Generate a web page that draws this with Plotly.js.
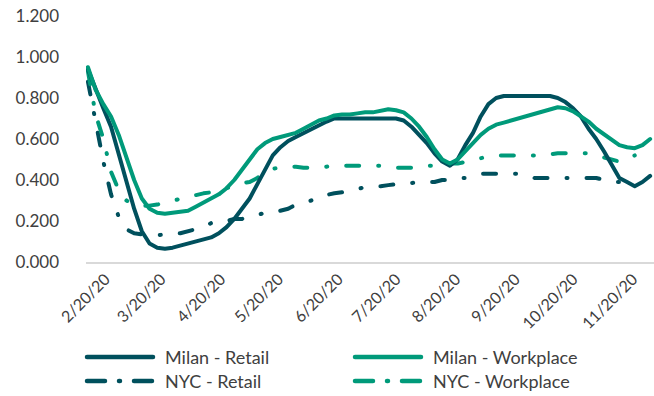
<!DOCTYPE html>
<html>
<head>
<meta charset="utf-8">
<script src="https://cdn.plot.ly/plotly-3.0.1.min.js"></script>
<style>
  html, body { margin: 0; padding: 0; background: #ffffff; }
  #chart { width: 654px; height: 396px; }
  .scatterlayer .js-line, .shapelayer path { stroke-linecap: round; stroke-linejoin: round; }
</style>
</head>
<body>
<div id="chart"></div>
<script>
// Mobility index (1.000 = baseline), sampled every four days
const dates = ['2020-02-13','2020-02-17','2020-02-21','2020-02-25','2020-02-29',
  '2020-03-04','2020-03-08','2020-03-12','2020-03-16','2020-03-20','2020-03-24','2020-03-28',
  '2020-04-01','2020-04-05','2020-04-09','2020-04-13','2020-04-17','2020-04-21','2020-04-25','2020-04-29',
  '2020-05-03','2020-05-07','2020-05-11','2020-05-15','2020-05-19','2020-05-23','2020-05-27','2020-05-31',
  '2020-06-04','2020-06-08','2020-06-12','2020-06-16','2020-06-20','2020-06-24','2020-06-28',
  '2020-07-02','2020-07-06','2020-07-10','2020-07-14','2020-07-18','2020-07-22','2020-07-26','2020-07-30',
  '2020-08-03','2020-08-07','2020-08-11','2020-08-15','2020-08-19','2020-08-23','2020-08-27','2020-08-31',
  '2020-09-04','2020-09-08','2020-09-12','2020-09-16','2020-09-20','2020-09-24','2020-09-28',
  '2020-10-02','2020-10-06','2020-10-10','2020-10-14','2020-10-18','2020-10-22','2020-10-26','2020-10-30',
  '2020-11-03','2020-11-07','2020-11-11','2020-11-15','2020-11-19','2020-11-23','2020-11-27','2020-12-01'];

const milanRetail = [0.94, 0.84, 0.75, 0.66, 0.53,
  0.39, 0.26, 0.15, 0.09, 0.07, 0.065, 0.07,
  0.08, 0.09, 0.10, 0.11, 0.12, 0.14, 0.17, 0.21,
  0.26, 0.31, 0.38, 0.45, 0.52, 0.56, 0.59, 0.61,
  0.63, 0.65, 0.67, 0.685, 0.70, 0.70, 0.70,
  0.70, 0.70, 0.70, 0.70, 0.70, 0.70, 0.69, 0.66,
  0.62, 0.58, 0.53, 0.49, 0.47, 0.50, 0.57, 0.63,
  0.71, 0.77, 0.80, 0.81, 0.81, 0.81, 0.81,
  0.81, 0.81, 0.81, 0.80, 0.78, 0.75, 0.71, 0.65,
  0.60, 0.54, 0.47, 0.41, 0.39, 0.37, 0.39, 0.42];

const milanWorkplace = [0.95, 0.84, 0.77, 0.71, 0.62,
  0.51, 0.40, 0.31, 0.26, 0.24, 0.235, 0.24,
  0.245, 0.25, 0.27, 0.29, 0.31, 0.33, 0.36, 0.40,
  0.45, 0.50, 0.55, 0.58, 0.60, 0.61, 0.62, 0.63,
  0.65, 0.67, 0.69, 0.70, 0.715, 0.72, 0.72,
  0.725, 0.73, 0.73, 0.74, 0.745, 0.74, 0.73, 0.70,
  0.66, 0.61, 0.55, 0.50, 0.48, 0.50, 0.54, 0.58,
  0.62, 0.65, 0.67, 0.68, 0.69, 0.70, 0.715,
  0.725, 0.735, 0.745, 0.755, 0.75, 0.735, 0.71, 0.685,
  0.65, 0.625, 0.60, 0.57, 0.56, 0.555, 0.57, 0.60];

const nycRetail = [0.88, 0.68, 0.49, 0.33, 0.22,
  0.16, 0.14, 0.135, 0.13, 0.13, 0.135, 0.14,
  0.14, 0.15, 0.16, 0.17, 0.19, 0.20, 0.20, 0.21,
  0.21, 0.22, 0.23, 0.24, 0.24, 0.25, 0.26, 0.28,
  0.29, 0.30, 0.32, 0.33, 0.335, 0.34, 0.35,
  0.36, 0.365, 0.37, 0.37, 0.375, 0.38, 0.38, 0.385,
  0.39, 0.39, 0.39, 0.40, 0.40, 0.41, 0.41, 0.42,
  0.43, 0.43, 0.43, 0.43, 0.43, 0.43, 0.42,
  0.41, 0.41, 0.41, 0.41, 0.41, 0.41, 0.41, 0.41,
  0.41, 0.40, 0.39, 0.39, null, null, null, null];

const nycWorkplace = [0.93, 0.72, 0.60, 0.44, 0.35,
  0.30, 0.28, 0.275, 0.275, 0.28, 0.29, 0.30,
  0.31, 0.32, 0.33, 0.335, 0.34, 0.345, 0.36, 0.375,
  0.385, 0.39, 0.41, 0.44, 0.455, 0.46, 0.465, 0.465,
  0.46, 0.46, 0.46, 0.465, 0.47, 0.47, 0.47,
  0.47, 0.47, 0.47, 0.47, 0.465, 0.46, 0.46, 0.46,
  0.465, 0.47, 0.47, 0.475, 0.48, 0.48, 0.49, 0.50,
  0.51, 0.515, 0.52, 0.52, 0.52, 0.52, 0.52,
  0.52, 0.52, 0.525, 0.53, 0.53, 0.53, 0.53, 0.53,
  0.52, 0.51, 0.50, 0.49, 0.50, 0.52, null, null];

const tickDates = ['2020-02-20','2020-03-20','2020-04-20','2020-05-20','2020-06-20',
  '2020-07-20','2020-08-20','2020-09-20','2020-10-20','2020-11-20'];
const tickLabels = ['2/20/20','3/20/20','4/20/20','5/20/20','6/20/20',
  '7/20/20','8/20/20','9/20/20','10/20/20','11/20/20'];

const seriesNames = ['Milan - Retail', 'Milan - Workplace', 'NYC - Retail', 'NYC - Workplace'];

const DARK = '#00505D';
const GREEN = '#009A7A';
const DASHDOT = '13px,19px,1px,19px';
const TEXT = '#404040';
const FONT = 'Lato, "DejaVu Sans", sans-serif';

const styles = [
  { color: DARK,  dash: 'solid' },
  { color: GREEN, dash: 'solid' },
  { color: DARK,  dash: DASHDOT },
  { color: GREEN, dash: DASHDOT }
];
const values = [milanRetail, milanWorkplace, nycRetail, nycWorkplace];

// Draw order: NYC lines underneath the Milan lines
const order = [2, 3, 0, 1];
const traces = order.map(i => ({
  type: 'scatter',
  mode: 'lines',
  name: seriesNames[i],
  x: dates,
  y: values[i],
  connectgaps: false,
  line: { color: styles[i].color, width: 4, dash: styles[i].dash },
  hoverinfo: 'skip',
  showlegend: false
}));

const W = 654, H = 396;
const M = { l: 86, r: 0, t: 16, b: 134 };
const plotW = W - M.l - M.r, plotH = H - M.t - M.b;
const px = x => (x - M.l) / plotW;
const py = y => (H - M.b - y) / plotH;

// Custom two-column key below the axis
const keyPos = [
  { x: 87,  y: 357 },
  { x: 355, y: 357 },
  { x: 87,  y: 381 },
  { x: 355, y: 381 }
];
const shapes = [];
const annotations = [];
seriesNames.forEach((name, i) => {
  const k = keyPos[i];
  shapes.push({
    type: 'line', xref: 'paper', yref: 'paper',
    x0: px(k.x), x1: px(k.x + 66), y0: py(k.y), y1: py(k.y),
    line: { color: styles[i].color, width: 4.5,
            dash: styles[i].dash === 'solid' ? 'solid' : '18px,14px,1px,14px' }
  });
  annotations.push({
    xref: 'paper', yref: 'paper', x: px(k.x + 76), y: py(k.y),
    xanchor: 'left', yanchor: 'middle', showarrow: false,
    text: name, font: { family: FONT, size: 18, color: TEXT }
  });
});

const layout = {
  width: W, height: H,
  margin: M,
  paper_bgcolor: '#ffffff',
  plot_bgcolor: '#ffffff',
  showlegend: false,
  font: { family: FONT, size: 16, color: TEXT },
  xaxis: {
    type: 'date',
    range: ['2020-02-12', '2020-12-03'],
    tickvals: tickDates,
    ticktext: tickLabels,
    tickangle: -45,
    ticks: '',
    ticklabelshift: 4,
    showgrid: false,
    zeroline: false,
    showline: true,
    linecolor: '#D9D9D9',
    linewidth: 1.5,
    automargin: false,
    tickfont: { family: FONT, size: 16, color: TEXT }
  },
  yaxis: {
    range: [0, 1.2],
    dtick: 0.2,
    tick0: 0,
    tickformat: '.3f',
    ticks: '',
    showgrid: false,
    zeroline: false,
    showline: false,
    automargin: false,
    ticklabelstandoff: 26,
    tickfont: { family: FONT, size: 17, color: TEXT }
  },
  shapes: shapes,
  annotations: annotations
};

Plotly.newPlot('chart', traces, layout, { staticPlot: true, displayModeBar: false });
</script>
</body>
</html>
